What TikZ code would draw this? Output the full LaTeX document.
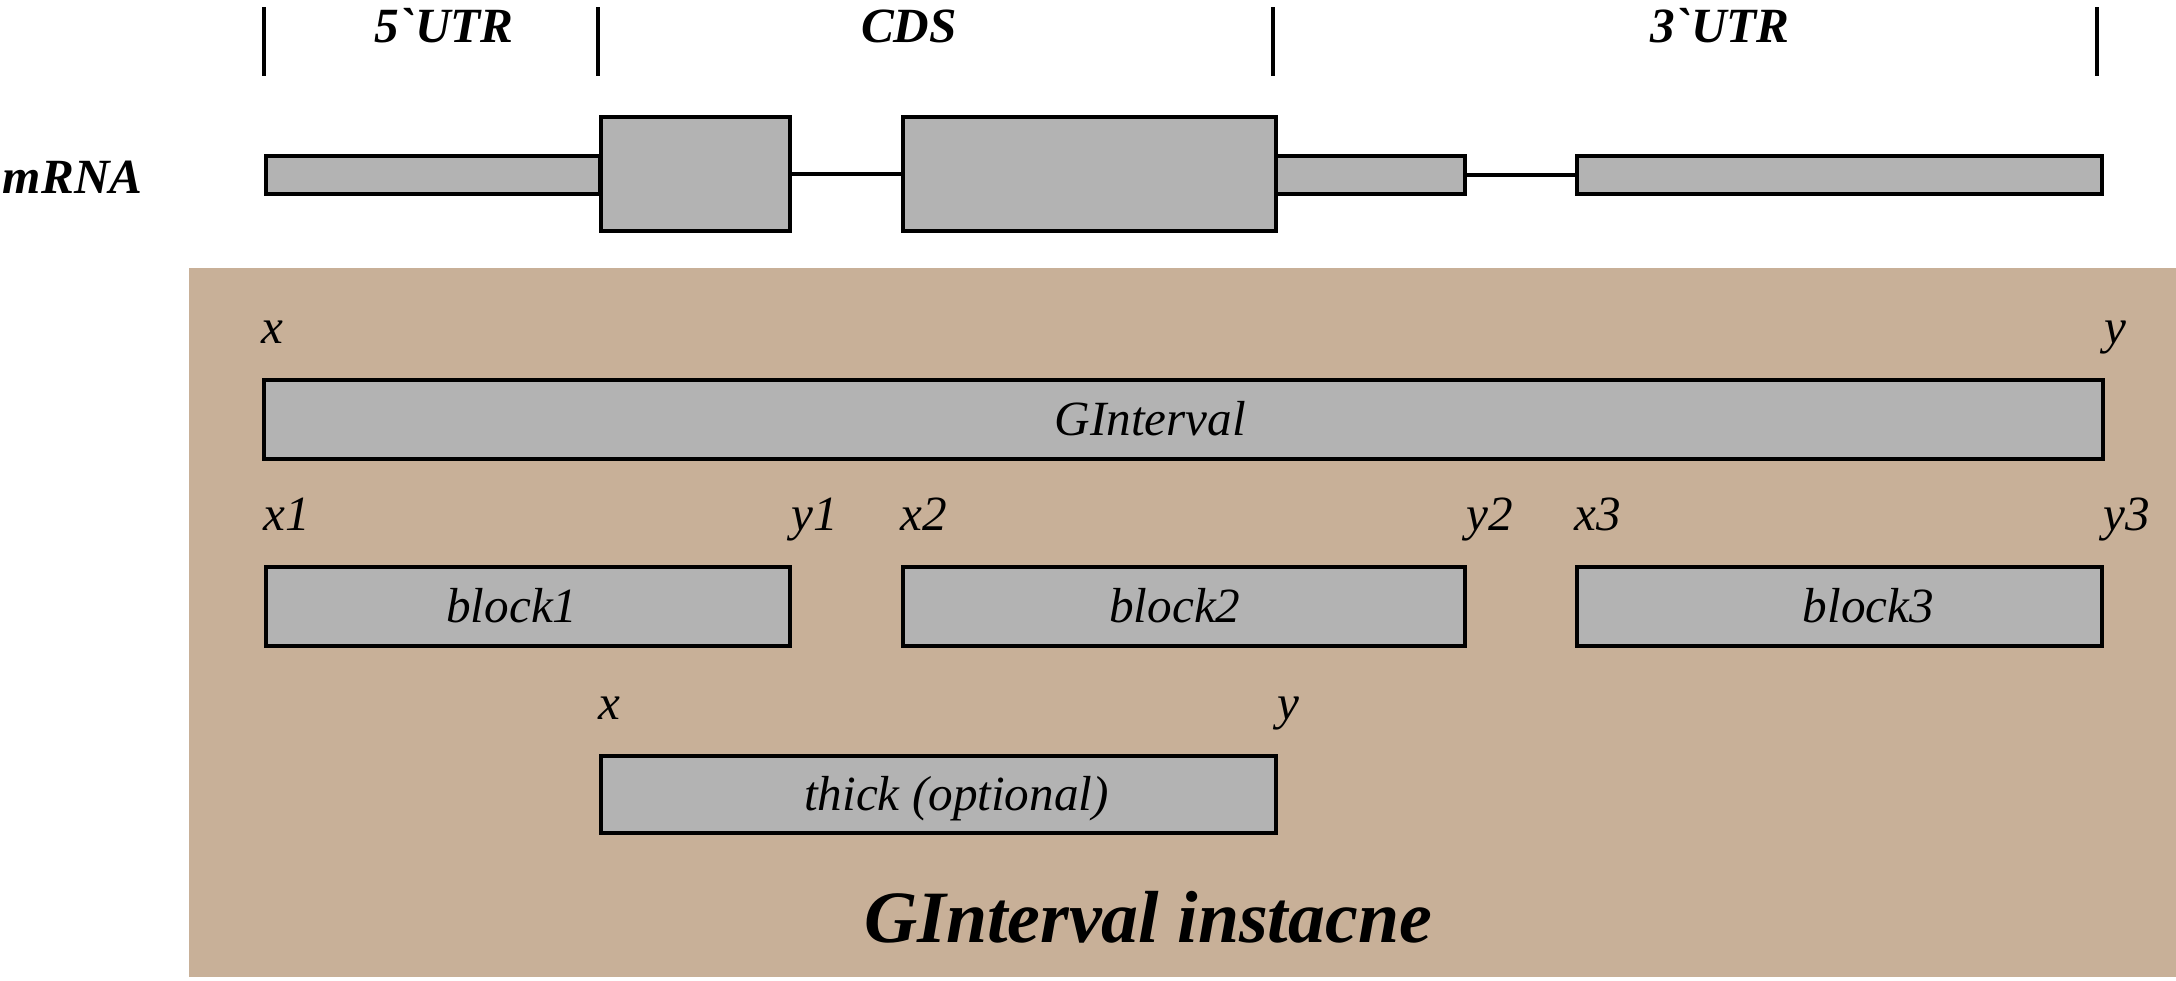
\documentclass[tikz,border=0pt]{standalone}
\usepackage{fontspec}
\newfontfamily\labfont{Liberation Serif}
\definecolor{boxgray}{RGB}{179,179,179}
\definecolor{tanbg}{RGB}{200,176,152}
\tikzstyle{part} = [rectangle,draw=black,fill=boxgray,line width=1.1pt,inner sep=0pt,anchor=north west]
\tikzstyle{headlbl} = [font=\labfont\bfseries\itshape\fontsize{14}{16}\selectfont,inner sep=0pt,anchor=base]
\tikzstyle{boxtext} = [font=\labfont\itshape\fontsize{14}{16}\selectfont,inner sep=0pt,anchor=base]
\tikzstyle{coordlbl} = [font=\labfont\itshape\fontsize{14}{16}\selectfont,inner sep=0pt,anchor=base west]

\begin{document}
\begin{tikzpicture}[line width=1.1pt]
    \useasboundingbox (0,0) rectangle (21.76,-9.80);
    \fill[tanbg] (1.89,-2.68) rectangle (21.76,-9.77);

    % regions
    \foreach \x in {2.64,5.98,12.73,20.97}
      \draw (\x,-0.07) -- (\x,-0.76);
    \node[headlbl] (utr5lbl) at (4.44,-0.42) {5`UTR};
    \node[headlbl] (cdslbl)  at (9.09,-0.42) {CDS};
    \node[headlbl] (utr3lbl) at (17.20,-0.42) {3`UTR};

    % mRNA
    \node[headlbl,anchor=base west] (mrna) at (0.01,-1.93) {mRNA};
    \node[part,minimum width=3.34cm,minimum height=0.38cm] (utr5)  at (2.64,-1.54) {};
    \node[part,minimum width=1.89cm,minimum height=1.14cm] (cds1)  at (5.99,-1.15) {};
    \node[part,minimum width=3.73cm,minimum height=1.14cm] (cds2)  at (9.01,-1.15) {};
    \node[part,minimum width=1.89cm,minimum height=0.38cm] (utr3a) at (12.74,-1.54) {};
    \node[part,minimum width=5.25cm,minimum height=0.38cm] (utr3b) at (15.75,-1.54) {};
    \draw (cds1) -- (cds2);
    \draw (utr3a) -- (utr3b);

    % GInterval
    \node[part,minimum width=18.39cm,minimum height=0.79cm] (gi)  at (2.62,-3.78) {};
    \node[part,minimum width=5.24cm,minimum height=0.79cm]  (b1)  at (2.64,-5.65) {};
    \node[part,minimum width=5.62cm,minimum height=0.79cm]  (b2)  at (9.01,-5.65) {};
    \node[part,minimum width=5.25cm,minimum height=0.79cm]  (b3)  at (15.75,-5.65) {};
    \node[part,minimum width=6.75cm,minimum height=0.77cm]  (thk) at (5.99,-7.54) {};

    \node[boxtext] (gitxt)  at ([xshift=-3.3mm,yshift=-1.6mm]gi.center)  {GInterval};
    \node[boxtext] (b1txt)  at ([xshift=-1.6mm,yshift=-1.6mm]b1.center)  {block1};
    \node[boxtext] (b2txt)  at ([xshift=-0.9mm,yshift=-1.6mm]b2.center)  {block2};
    \node[boxtext] (b3txt)  at ([xshift=2.9mm,yshift=-1.6mm]b3.center)   {block3};
    \node[boxtext] (thktxt) at ([xshift=1.8mm,yshift=-1.6mm]thk.center)  {thick (optional)};

    \foreach \b/\l/\r in {gi/x/y,b1/x1/y1,b2/x2/y2,b3/x3/y3,thk/x/y} {
      \node[coordlbl] (\b l) at ([xshift=-0.2mm,yshift=3.5mm]\b.north west) {\l};
      \node[coordlbl] (\b r) at ([xshift=-0.2mm,yshift=3.5mm]\b.north east) {\r};
    }

    \node[font=\labfont\bfseries\itshape\fontsize{21}{24}\selectfont,inner sep=0pt,anchor=base] (title) at (11.48,-9.42) {GInterval instacne};
\end{tikzpicture}
\end{document}
